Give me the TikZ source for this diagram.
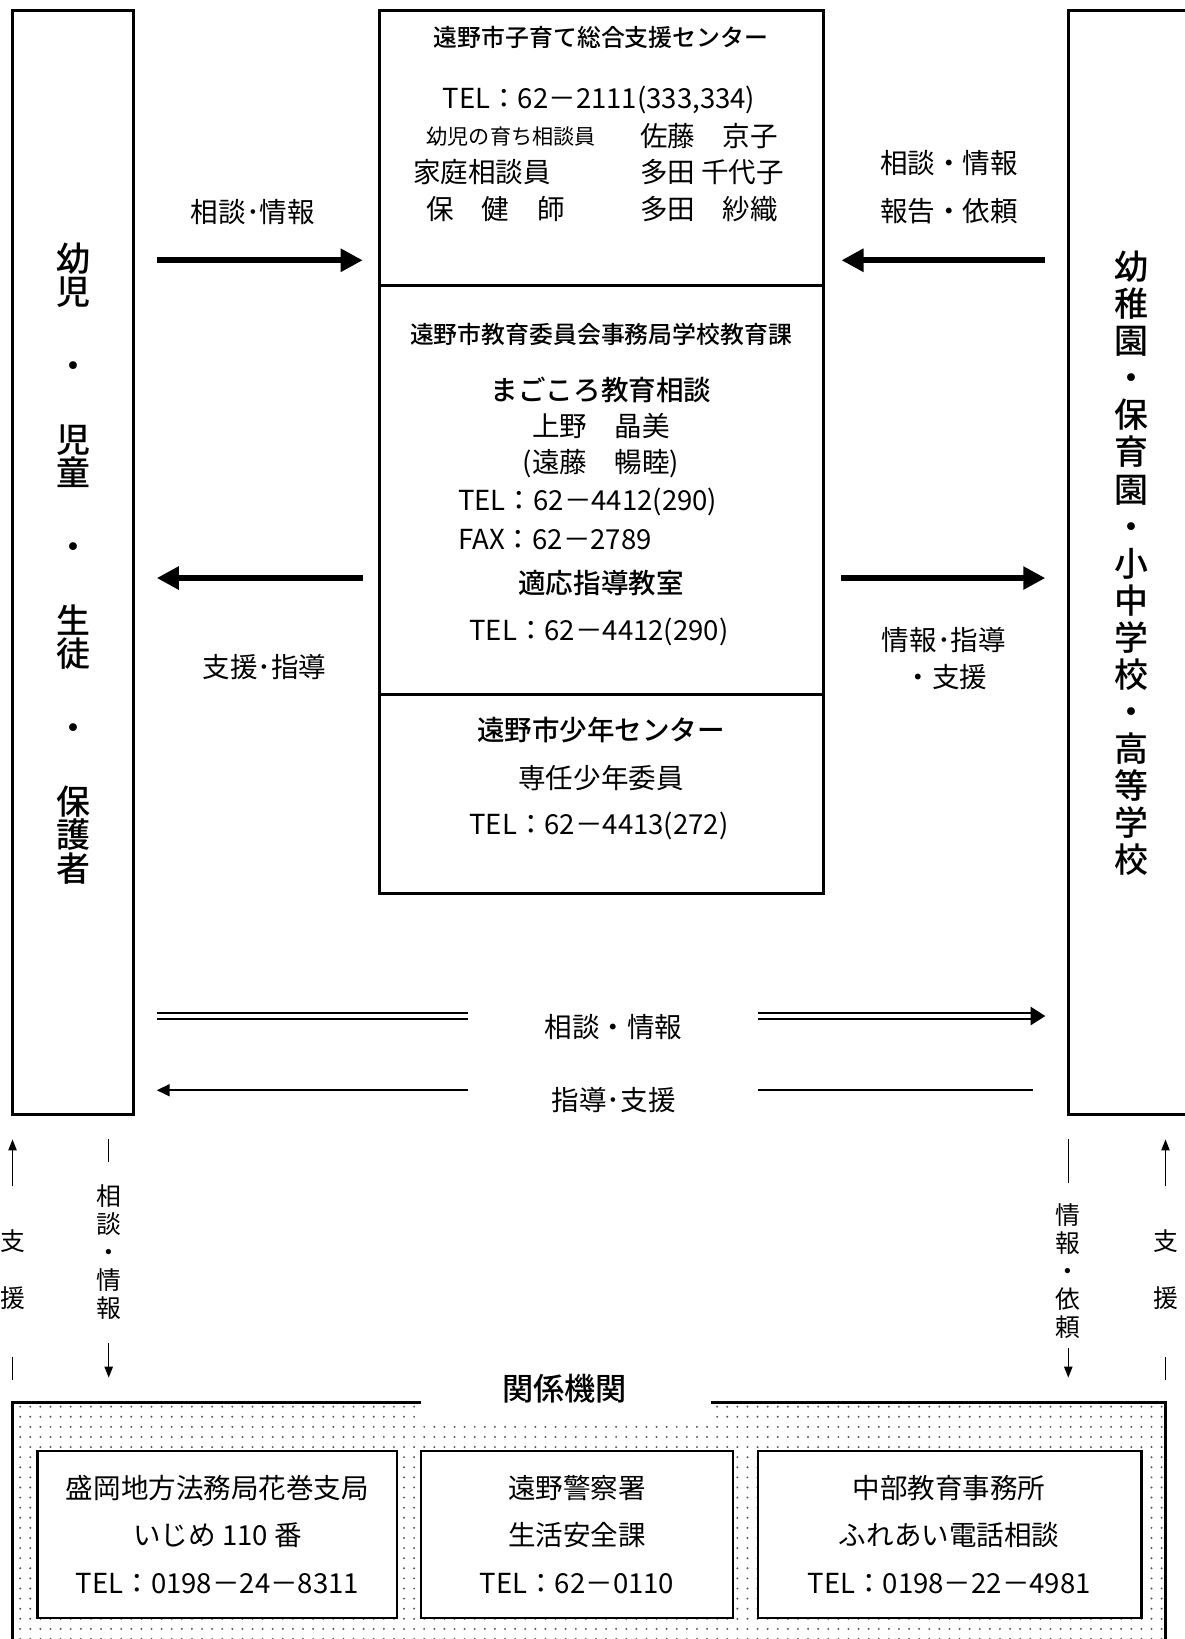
\documentclass[tikz,border=0pt]{standalone}
\usepackage{fontspec}
\setmainfont{Noto Sans CJK JP}[BoldFont={Noto Sans CJK JP Medium}]
\usetikzlibrary{arrows.meta,patterns.meta}

\begin{document}
\begin{tikzpicture}[x=0.02cm, y=-0.02cm,
    box/.style={line width=1.7pt},
    txt/.style={font=\fontsize{15}{18}\selectfont, inner sep=0pt},
    head/.style={font=\fontsize{13}{16}\selectfont\bfseries, inner sep=0pt},
    big/.style={font=\fontsize{15}{18}\selectfont\bfseries, inner sep=0pt},
    side/.style={font=\fontsize{18.5}{18.2}\selectfont\bfseries, inner sep=0pt, align=center},
    vlab/.style={font=\fontsize{13.5}{15.3}\selectfont, inner sep=0pt, align=center},
    fat/.style={line width=3.4pt, -{Triangle[length=12pt, width=12pt]}},
    thin/.style={line width=1.1pt, -{Triangle[length=7pt, width=6.5pt]}},
    tiny/.style={line width=0.8pt, -{Triangle[length=6pt, width=4.5pt]}}]

    \useasboundingbox (0,0) rectangle (1133,1568);

    \draw[box] (12,10) rectangle (128,1066);
    \draw[box] (1145,10) -- (1022,10) -- (1022,1066) -- (1145,1066);
    \draw[box] (363,10) rectangle (788,855);
    \draw[box] (363,273) -- (788,273);
    \draw[box] (363,664) -- (788,664);

    \node(kodomo)[side] at (70,539) {幼\\児\\[22pt]・\\[22pt]児\\童\\[22pt]・\\[22pt]生\\徒\\[22pt]・\\[22pt]保\\護\\者};
    \node(gakko)[side, font=\fontsize{18.5}{20.2}\selectfont\bfseries] at (1082,539)
        {幼\\稚\\園\\・\\保\\育\\園\\・\\小\\中\\学\\校\\・\\高\\等\\学\\校};

    \node(ct)[head] at (575,36) {遠野市子育て総合支援センター};
    \node(ctel)[txt] at (573,96) {TEL：62－2111(333,334)};
    \node(r1a)[font=\fontsize{11.5}{14}\selectfont, inner sep=0pt] at (489,131) {幼児の育ち相談員};
    \node(r1b)[txt, anchor=west] at (612,130) {佐藤　京子};
    \node(r2a)[txt, anchor=west] at (395,165) {家庭相談員};
    \node(r2b)[txt, anchor=west] at (612,165) {多田 千代子};
    \node(r3a)[txt, anchor=west] at (408,200) {保　健　師};
    \node(r3b)[txt, anchor=west] at (612,200) {多田　紗織};

    \node(kt)[head] at (575,320) {遠野市教育委員会事務局学校教育課};
    \node(mk)[big] at (575,373) {まごころ教育相談};
    \node(mk1)[txt] at (575,408) {上野　晶美};
    \node(mk2)[txt] at (575,444) {(遠藤　暢睦)};
    \node(mktel)[txt, anchor=west] at (438,480) {TEL：62－4412(290)};
    \node(mkfax)[txt, anchor=west] at (438,516) {FAX：62－2789};
    \node(tk)[big] at (575,558) {適応指導教室};
    \node(tktel)[txt] at (573,605) {TEL：62－4412(290)};

    \node(sc)[big] at (575,698) {遠野市少年センター};
    \node(sc1)[txt] at (575,744) {専任少年委員};
    \node(sctel)[txt] at (573,790) {TEL：62－4413(272)};

    \path (150,249) coordinate (a1) (347,249) coordinate (a2)
          (347,553) coordinate (b1) (150,553) coordinate (b2)
          (1000,249) coordinate (c1) (805,249) coordinate (c2)
          (805,553) coordinate (d1) (1000,553) coordinate (d2);
    \draw[fat] (a1) -- (a2);
    \draw[fat] (b1) -- (b2);
    \draw[fat] (c1) -- (c2);
    \draw[fat] (d1) -- (d2);
    \node(la)[txt] at (242,203) {相談･情報};
    \node(lb)[txt] at (253,638) {支援･指導};
    \node(lc1)[txt] at (908,156) {相談・情報};
    \node(lc2)[txt] at (908,202) {報告・依頼};
    \node(ld1)[txt] at (903,612) {情報･指導};
    \node(ld2)[txt] at (905,648) {・支援};

    \path (150,972) coordinate (e1) (448,972) coordinate (e2)
          (725,972) coordinate (e3) (1000,972) coordinate (e4)
          (448,1043) coordinate (f1) (150,1043) coordinate (f2)
          (725,1043) coordinate (f3) (988,1043) coordinate (f4);
    \draw[line width=0.9pt, double distance=2.4pt] (e1) -- (e2);
    \draw[line width=0.9pt, double distance=2.4pt, -{Triangle[length=8pt, width=10pt]}] (e3) -- (e4);
    \draw[thin] (f1) -- (f2);
    \draw[line width=1.1pt] (f3) -- (f4);
    \node(le)[txt] at (587,983) {相談・情報};
    \node(lf)[txt] at (587,1052) {指導･支援};

    \node(s1)[vlab, font=\fontsize{13.5}{31}\selectfont] at (12,1215) {支\\援};
    \node(s2)[vlab] at (104,1198) {相\\談\\・\\情\\報};
    \node(s3)[vlab] at (1022,1216) {情\\報\\・\\依\\頼};
    \node(s4)[vlab, font=\fontsize{13.5}{31}\selectfont] at (1115,1215) {支\\援};
    \path (12,1135) coordinate (g1) (12,1090) coordinate (g2)
          (12,1298) coordinate (g3) (12,1320) coordinate (g4)
          (104,1090) coordinate (h1) (104,1112) coordinate (h2)
          (104,1285) coordinate (h3) (104,1318) coordinate (h4)
          (1022,1090) coordinate (i1) (1022,1132) coordinate (i2)
          (1022,1290) coordinate (i3) (1022,1318) coordinate (i4)
          (1115,1135) coordinate (j1) (1115,1090) coordinate (j2)
          (1115,1298) coordinate (j3) (1115,1320) coordinate (j4);
    \draw[tiny] (g1) -- (g2);
    \draw[line width=0.8pt] (g3) -- (g4);
    \draw[line width=0.8pt] (h1) -- (h2);
    \draw[tiny] (h3) -- (h4);
    \draw[line width=0.8pt] (i1) -- (i2);
    \draw[tiny] (i3) -- (i4);
    \draw[tiny] (j1) -- (j2);
    \draw[line width=0.8pt] (j3) -- (j4);

    \fill[pattern={Dots[distance=5.5pt, radius=0.6pt]}, pattern color=gray!70!black]
        (12,1342) -- (403,1342) -- (403,1362) -- (680,1362) -- (680,1342)
        -- (1115,1342) -- (1115,1600) -- (12,1600) -- cycle;
    \draw[box] (403,1342) -- (12,1342) -- (12,1600);
    \draw[box] (680,1342) -- (1115,1342) -- (1115,1600);
    \node(kk)[font=\fontsize{17}{20}\selectfont\bfseries, inner sep=0pt] at (540,1328) {関係機関};

    \draw[line width=1.3pt, fill=white] (36,1388) rectangle (380,1548);
    \draw[line width=1.3pt, fill=white] (403,1388) rectangle (701,1548);
    \draw[line width=1.3pt, fill=white] (725,1388) rectangle (1092,1548);
    \node(hk)[font=\fontsize{15}{26}\selectfont, align=center, inner sep=0pt] at (208,1468)
        {盛岡地方法務局花巻支局\\いじめ 110 番\\TEL：0198－24－8311};
    \node(ks)[font=\fontsize{15}{26}\selectfont, align=center, inner sep=0pt] at (552,1468)
        {遠野警察署\\生活安全課\\TEL：62－0110};
    \node(cb)[font=\fontsize{15}{26}\selectfont, align=center, inner sep=0pt] at (908,1468)
        {中部教育事務所\\ふれあい電話相談\\TEL：0198－22－4981};
\end{tikzpicture}
\end{document}
